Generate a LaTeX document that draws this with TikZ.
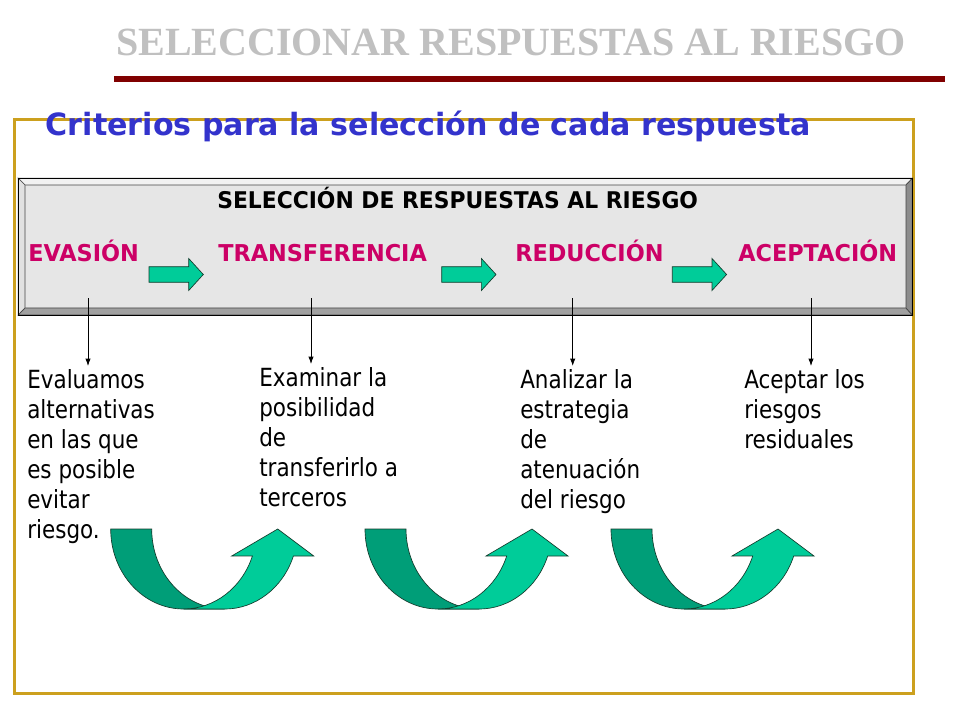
\documentclass[tikz,border=0pt]{standalone}
\usepackage{fontspec}
\usetikzlibrary{arrows.meta}
\setmainfont{DejaVu Sans}
\newfontfamily\titlefont{Liberation Serif}
\newfontfamily\bodyfont[FakeStretch=0.86]{DejaVu Sans}
\newfontfamily\labfont[FakeStretch=0.965]{DejaVu Sans}
\newfontfamily\headfont[FakeStretch=0.95]{DejaVu Sans}
\newfontfamily\critfont[FakeStretch=0.982]{DejaVu Sans}
\definecolor{titlegray}{RGB}{192,192,192}
\definecolor{darkred}{RGB}{128,0,0}
\definecolor{framegold}{RGB}{204,160,30}
\definecolor{critblue}{RGB}{51,51,204}
\definecolor{labmag}{RGB}{204,0,102}
\definecolor{tealL}{RGB}{0,204,153}
\definecolor{tealD}{RGB}{0,158,120}
\definecolor{facegray}{RGB}{230,230,230}
\definecolor{bevtop}{RGB}{242,242,242}
\definecolor{bevleft}{RGB}{225,225,225}
\definecolor{bevbot}{RGB}{160,160,160}
\definecolor{bevright}{RGB}{140,140,140}
\definecolor{bevline}{RGB}{70,70,70}
\definecolor{shapeline}{RGB}{20,60,45}
\tikzset{
  bodytext/.style={anchor=north west, inner sep=0pt, align=left,
    font=\bodyfont\fontsize{18.75}{22.5}\selectfont},
  labtext/.style={anchor=base west, inner sep=0pt, text=labmag,
    font=\labfont\bfseries\fontsize{17.4}{20}\selectfont},
  conn/.style={draw=black, line width=0.6pt, -{Latex[length=5.5pt,width=4pt]}},
  blockarr/.pic={
    \filldraw[fill=tealL, draw=shapeline, line width=0.5pt]
      (0,-7.8) -- (39.7,-7.8) -- (39.7,-16) -- (54.3,0) -- (39.7,16)
      -- (39.7,7.8) -- (0,7.8) -- cycle;
  },
  uturn/.pic={
    \filldraw[fill=tealD, draw=shapeline, line width=0.5pt]
      (0,0) arc[start angle=180, end angle=90, x radius=73, y radius=80]
      -- (114,80)
      arc[start angle=90, end angle=180, x radius=73, y radius=80]
      -- cycle;
    \filldraw[fill=tealL, draw=shapeline, line width=0.5pt]
      (73,80) arc[start angle=90, end angle=19.7, x radius=73, y radius=80]
      -- (121,27) -- (167,0) -- (203,27) -- (182.7,27)
      arc[start angle=19.7, end angle=90, x radius=73, y radius=80]
      -- cycle;
  }
}
\begin{document}
\begin{tikzpicture}[x=0.75pt,y=-0.75pt]
\useasboundingbox (0,0) rectangle (960,720);
\fill[white] (0,0) rectangle (960,720);

% title and rule
\node[anchor=base west, inner sep=0pt, text=titlegray,
  font=\titlefont\bfseries\fontsize{30}{36}\selectfont] (title) at (116,55.7)
  {SELECCIONAR RESPUESTAS AL RIESGO};
\draw[darkred, line width=4.5pt] (114,78.7) -- (945,78.7);

% gold frame
\draw[framegold, line width=2.25pt] (14,119.5) rectangle (913,693);

% subtitle
\node[anchor=base west, inner sep=0pt, text=critblue,
  font=\critfont\bfseries\fontsize{23}{28}\selectfont] (crit) at (45.5,135.7)
  {Criterios para la selección de cada respuesta};

% bevelled box
\fill[facegray] (25,185) rectangle (906,308);
\filldraw[fill=bevtop, draw=bevline, line width=0.5pt]
  (18.3,178.3) -- (912.3,178.3) -- (906,185) -- (25,185) -- cycle;
\filldraw[fill=bevleft, draw=bevline, line width=0.5pt]
  (18.3,178.3) -- (25,185) -- (25,308) -- (18.3,315) -- cycle;
\filldraw[fill=bevbot, draw=bevline, line width=0.5pt]
  (18.3,315) -- (25,308) -- (906,308) -- (912.3,315) -- cycle;
\filldraw[fill=bevright, draw=bevline, line width=0.5pt]
  (912.3,178.3) -- (912.3,315) -- (906,308) -- (906,185) -- cycle;
\draw[black, line width=0.75pt] (18.3,178.3) rectangle (912.3,315);

\node[anchor=base west, inner sep=0pt, text=black,
  font=\headfont\bfseries\fontsize{17.25}{20}\selectfont] (head) at (217,208.3)
  {SELECCIÓN DE RESPUESTAS AL RIESGO};

\node[labtext] (evas) at (28,261.7) {EVASIÓN};
\node[labtext] (trans) at (218,261.7) {TRANSFERENCIA};
\node[labtext] (reduc) at (515,261.7) {REDUCCIÓN};
\node[labtext] (acep) at (738,261.7) {ACEPTACIÓN};

\pic at (149,274.5) {blockarr};
\pic at (441.7,274.5) {blockarr};
\pic at (672.3,274.5) {blockarr};

% connectors
\coordinate (s1) at (88,298.3);  \coordinate (e1) at (88,366);
\coordinate (s2) at (311,298.3); \coordinate (e2) at (311,364);
\coordinate (s3) at (572.7,298.3); \coordinate (e3) at (572.7,366);
\coordinate (s4) at (811,298.3); \coordinate (e4) at (811,366);
\draw[conn] (s1) -- (e1);
\draw[conn] (s2) -- (e2);
\draw[conn] (s3) -- (e3);
\draw[conn] (s4) -- (e4);

% body texts
\node[bodytext] (t1) at (27,369.3) {Evaluamos\\alternativas\\en las que\\es posible\\evitar\\riesgo.};
\node[bodytext] (t2) at (259,367.3) {Examinar la\\posibilidad\\de\\transferirlo a\\terceros};
\node[bodytext] (t3) at (520,369.3) {Analizar la\\estrategia\\de\\atenuación\\del riesgo};
\node[bodytext] (t4) at (744,369.3) {Aceptar los\\riesgos\\residuales};

% U-turn arrows
\pic at (110.7,529) {uturn};
\pic at (365,529) {uturn};
\pic at (611,529) {uturn};
\end{tikzpicture}
\end{document}
